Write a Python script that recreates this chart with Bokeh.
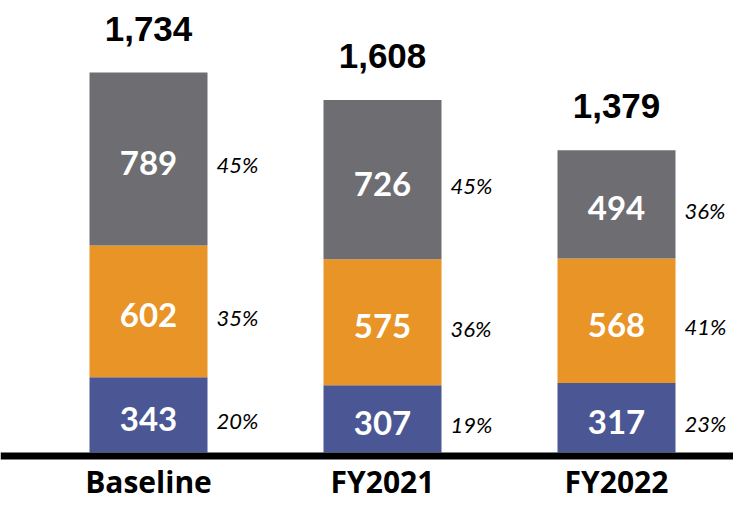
from bokeh.plotting import figure
from bokeh.models import ColumnDataSource, Range1d, Span
from bokeh.core.properties import value
from bokeh.embed import file_html
from bokeh.resources import INLINE

categories = ["Baseline", "FY2021", "FY2022"]
bottom_vals = [343, 307, 317]
middle_vals = [602, 575, 568]
top_vals = [789, 726, 494]
totals = [1734, 1608, 1379]
bottom_pct = ["20%", "19%", "23%"]
middle_pct = ["35%", "36%", "41%"]
top_pct = ["45%", "45%", "36%"]

colors = ["#4a5794", "#e89426", "#6e6e72"]

W, H = 733, 504
xs = list(range(len(categories)))

# pixel scales
px_per_x = 234.0
x0_px = 148.0
x_start = -x0_px / px_per_x
x_end = x_start + W / px_per_x
base_px = 452.0
px_per_y = (base_px - 72) / 1734
y_start = -(H - base_px) / px_per_y
y_end = base_px / px_per_y

p = figure(width=W, height=H, output_backend="svg", toolbar_location=None,
           x_range=Range1d(x_start, x_end), y_range=Range1d(y_start, y_end),
           min_border=0)
p.axis.visible = False
p.grid.visible = False
p.outline_line_color = None
p.background_fill_color = "white"

bar_w = 118 / px_per_x

b0 = [0] * 3
b1 = bottom_vals
b2 = [a + b for a, b in zip(bottom_vals, middle_vals)]
b3 = [a + b for a, b in zip(b2, top_vals)]

src = ColumnDataSource(dict(
    x=xs, b0=b0, b1=b1, b2=b2, b3=b3,
    m1=[(a + b) / 2 for a, b in zip(b0, b1)],
    m2=[(a + b) / 2 for a, b in zip(b1, b2)],
    m3=[(a + b) / 2 for a, b in zip(b2, b3)],
    v1=[str(v) for v in bottom_vals],
    v2=[str(v) for v in middle_vals],
    v3=[str(v) for v in top_vals],
    p1=bottom_pct, p2=middle_pct, p3=top_pct,
    tot=[f"{t:,}" for t in totals],
    cat=categories,
    xp=[x + bar_w / 2 + 9 / px_per_x for x in xs],
))

for lo, hi, c in [("b0", "b1", colors[0]), ("b1", "b2", colors[1]), ("b2", "b3", colors[2])]:
    p.vbar(x="x", bottom=lo, top=hi, width=bar_w, fill_color=c, line_color=None, source=src)

for m, v, pc in [("m1", "v1", "p1"), ("m2", "v2", "p2"), ("m3", "v3", "p3")]:
    p.text(x="x", y=m, text=v, source=src, text_align="center", text_baseline="middle",
           text_color="white", text_font=value("Lato"), text_font_style="bold",
           text_font_size="33px", y_offset=4)
    p.text(x="xp", y=m, text=pc, source=src, text_align="left", text_baseline="middle",
           text_color="black", text_font=value("Lato"), text_font_style="italic",
           text_font_size="22px", y_offset=6)

p.text(x="x", y="b3", text="tot", source=src, text_align="center", text_baseline="alphabetic",
       y_offset=-44, text_color="black", text_font=value("Liberation Sans"),
       text_font_style="bold", text_font_size="35px")

p.text(x="x", y="b0", text="cat", source=src, text_align="center", text_baseline="alphabetic",
       y_offset=29, text_color="black", text_font=value("Open Sans"),
       text_font_style="bold", text_font_size="30px")

p.add_layout(Span(location=-3.5 / px_per_y, dimension="width", line_color="black", line_width=7))

open("out.html", "w").write(file_html(p, INLINE))
